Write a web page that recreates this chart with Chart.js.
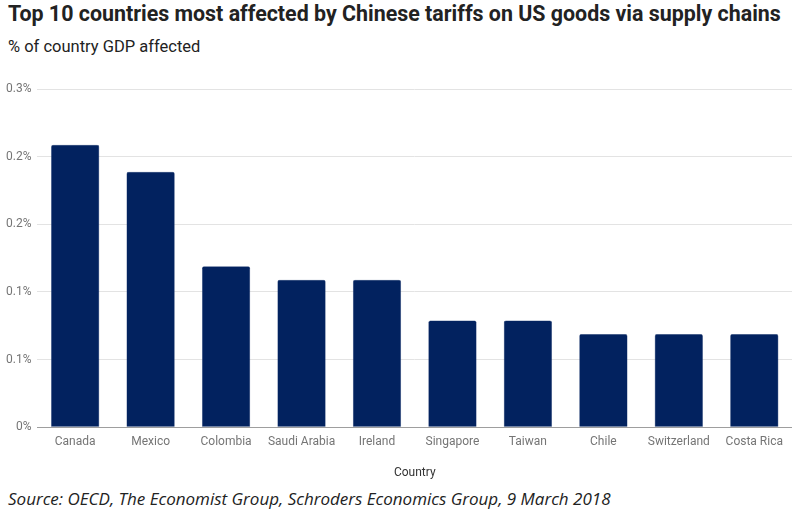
<!DOCTYPE html>
<html>
<head>
<meta charset="utf-8">
<script src="https://cdn.jsdelivr.net/npm/chart.js@4"></script>
<style>
  body { margin: 0; background: #fff; width: 792px; height: 510px; position: relative; overflow: hidden; }
  #titulo { position: absolute; left: 8px; top: 1px; font: 700 21.4px Roboto, sans-serif; color: #222; white-space: nowrap; }
  #sub { position: absolute; left: 8px; top: 37px; font: 400 16.5px Roboto, sans-serif; color: #222; white-space: nowrap; }
  #fonte { position: absolute; left: 8px; top: 487px; font: italic 400 17px "Open Sans", sans-serif; color: #222; white-space: nowrap; }
  #wrap { position: absolute; left: 0; top: 76px; width: 792px; height: 404px; }
</style>
</head>
<body>
<div id="titulo">Top 10 countries most affected by Chinese tariffs on US goods via supply chains</div>
<div id="sub">% of country GDP affected</div>
<div id="wrap"><canvas id="grafico"></canvas></div>
<div id="fonte">Source: OECD, The Economist Group, Schroders Economics Group, 9 March 2018</div>
<script>
// Dados
const paises = ["Canada", "Mexico", "Colombia", "Saudi Arabia", "Ireland", "Singapore", "Taiwan", "Chile", "Switzerland", "Costa Rica"];
const valores = [0.209, 0.189, 0.119, 0.109, 0.109, 0.079, 0.079, 0.069, 0.069, 0.069];
const rotulosY = ["0%", "0.1%", "0.1%", "0.2%", "0.2%", "0.3%"];

const ctx = document.getElementById('grafico').getContext('2d');
new Chart(ctx, {
    type: 'bar',
    data: {
        labels: paises,
        datasets: [{
            label: '% of country GDP affected',
            data: valores,
            backgroundColor: '#02225f',
            borderColor: '#2a4478',
            borderWidth: 0.5,
            borderRadius: 2,
            borderSkipped: 'bottom',
            barPercentage: 0.64,
            categoryPercentage: 1
        }]
    },
    options: {
        responsive: true,
        maintainAspectRatio: false,
        animation: false,
        layout: { padding: { left: 0, right: 0, top: 8, bottom: 0 } },
        plugins: {
            legend: { display: false },
            tooltip: { enabled: false }
        },
        scales: {
            x: {
                grid: { display: false },
                border: { display: true, color: '#9e9e9e', width: 1 },
                ticks: { color: '#757575', font: { family: 'Roboto', size: 12 }, padding: 0 },
                title: { display: true, text: 'Country', color: '#333', font: { family: 'Roboto', size: 12 }, padding: { top: 16, bottom: 0 } }
            },
            y: {
                min: 0,
                max: 0.25,
                ticks: {
                    stepSize: 0.05,
                    color: '#757575',
                    font: { family: 'Roboto', size: 12 },
                    padding: 6,
                    callback: (v) => rotulosY[Math.round(v / 0.05)]
                },
                grid: { color: '#e3e3e3', drawTicks: false },
                border: { display: false }
            }
        }
    }
});
</script>
</body>
</html>
